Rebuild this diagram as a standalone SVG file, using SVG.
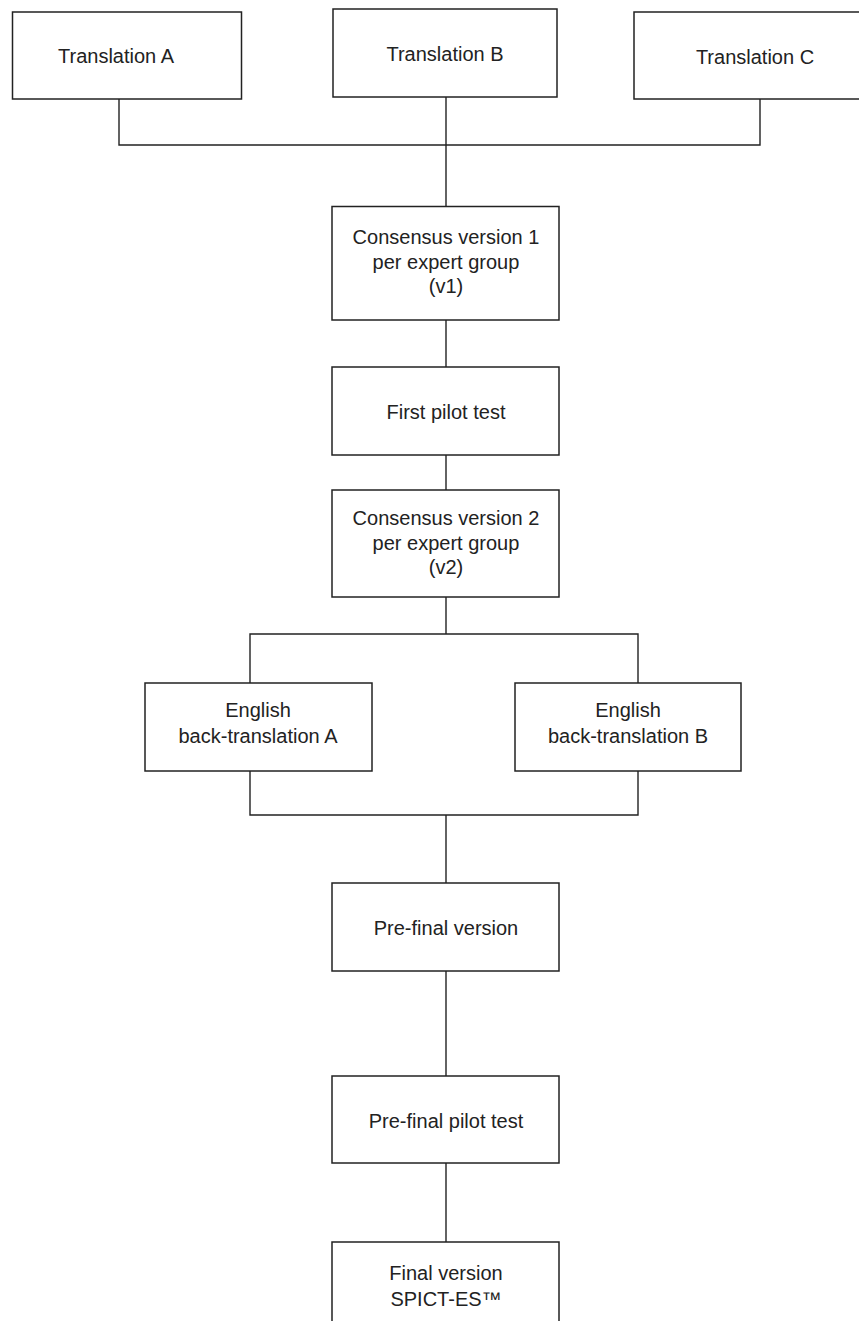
<svg xmlns="http://www.w3.org/2000/svg" width="859" height="1321" viewBox="0 0 859 1321">
<style>
.box{fill:#fff;stroke:#222;stroke-width:1.5}
.lbl{font-family:"Liberation Sans",Arial,sans-serif;font-size:20px;fill:#222;text-anchor:middle}
.con{fill:none;stroke:#222;stroke-width:1.4}
</style>
<rect width="859" height="1321" fill="#fff"/>
<g id="connectors">
<path class="con" d="M119,99 V145 H760 V99"/>
<path class="con" d="M446,97 V206"/>
<path class="con" d="M446,320 V367"/>
<path class="con" d="M446,455 V490"/>
<path class="con" d="M446,597 V634"/>
<path class="con" d="M250,683 V634 H638 V683"/>
<path class="con" d="M250,771 V815 H638 V771"/>
<path class="con" d="M446,815 V883"/>
<path class="con" d="M446,971 V1076"/>
<path class="con" d="M446,1163 V1242"/>
</g>
<g id="translationA"><rect class="box" x="12.5" y="12" width="229" height="87"/><text class="lbl" x="116" y="63">Translation A</text></g>
<g id="translationB"><rect class="box" x="333" y="9" width="224" height="88"/><text class="lbl" x="445" y="61">Translation B</text></g>
<g id="translationC"><rect class="box" x="634" y="12" width="240" height="87"/><text class="lbl" x="755" y="64">Translation C</text></g>
<g id="consensus1"><rect class="box" x="332" y="206.5" width="227" height="113.5"/><text class="lbl" x="446" y="244">Consensus version 1</text><text class="lbl" x="446" y="269">per expert group</text><text class="lbl" x="446" y="293">(v1)</text></g>
<g id="firstPilot"><rect class="box" x="332" y="367" width="227" height="88"/><text class="lbl" x="446" y="419">First pilot test</text></g>
<g id="consensus2"><rect class="box" x="332" y="490" width="227" height="107"/><text class="lbl" x="446" y="525">Consensus version 2</text><text class="lbl" x="446" y="550">per expert group</text><text class="lbl" x="446" y="574">(v2)</text></g>
<g id="backA"><rect class="box" x="145" y="683" width="227" height="88"/><text class="lbl" x="258" y="717">English</text><text class="lbl" x="258" y="743">back-translation A</text></g>
<g id="backB"><rect class="box" x="515" y="683" width="226" height="88"/><text class="lbl" x="628" y="717">English</text><text class="lbl" x="628" y="743">back-translation B</text></g>
<g id="preFinal"><rect class="box" x="332" y="883" width="227" height="88"/><text class="lbl" x="446" y="935">Pre-final version</text></g>
<g id="preFinalPilot"><rect class="box" x="332" y="1076" width="227" height="87"/><text class="lbl" x="446" y="1128">Pre-final pilot test</text></g>
<g id="final"><rect class="box" x="332" y="1242" width="227" height="100"/><text class="lbl" x="446" y="1280">Final version</text><text class="lbl" x="446" y="1306">SPICT-ES™</text></g>
</svg>
